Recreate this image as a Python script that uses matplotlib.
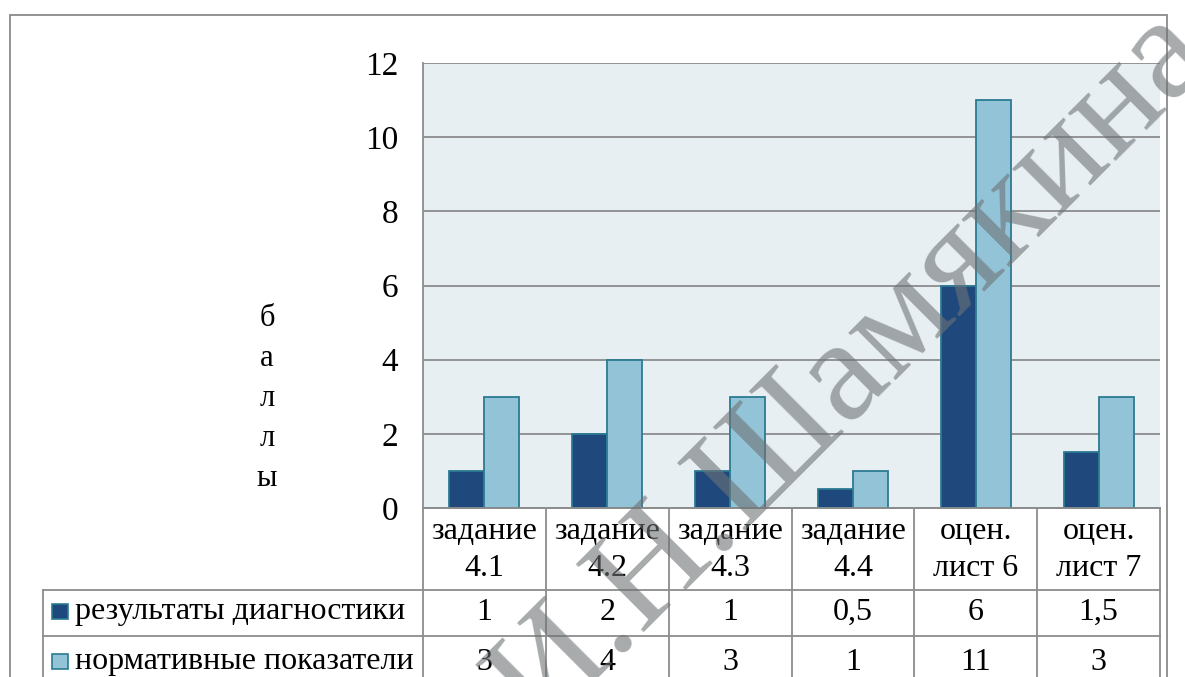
import numpy as np
import matplotlib
matplotlib.use("Agg")
import matplotlib.pyplot as plt
from matplotlib.patches import Rectangle
from matplotlib.transforms import blended_transform_factory

plt.rcParams['font.family'] = ['Liberation Serif', 'DejaVu Serif']

# data
categories = ["задание\n4.1", "задание\n4.2", "задание\n4.3", "задание\n4.4",
              "оцен.\nлист 6", "оцен.\nлист 7"]
series_names = ["результаты диагностики", "нормативные показатели"]
results = [1, 2, 1, 0.5, 6, 1.5]
norms = [3, 4, 3, 1, 11, 3]
yticks = [0, 2, 4, 6, 8, 10, 12]

c_dark = '#1F497D'
c_light = '#93C3D6'
c_edge = '#2B7A92'
c_grid = '#8C8C8C'

W, H = 1185, 677
fig = plt.figure(figsize=(W / 100, H / 100), dpi=100)

def fx(px):
    return px / W

def fy(py):
    return 1 - py / H

# chart area
ax_l, ax_r, ax_t, ax_b = 423, 1160, 63, 508
ax = fig.add_axes([fx(ax_l), fy(ax_b), fx(ax_r - ax_l), (ax_b - ax_t) / H])
ax.set_facecolor('#E8EFF3')

x = np.arange(len(categories))
bw = 0.285
ax.bar(x - bw / 2, results, bw, color=c_dark, edgecolor=c_edge, linewidth=1.3, zorder=3)
ax.bar(x + bw / 2, norms, bw, color=c_light, edgecolor=c_edge, linewidth=1.3, zorder=3)

ax.set_xlim(-0.5, len(categories) - 0.5)
ax.set_ylim(0, 12)
ax.set_yticks(yticks)
ax.set_yticklabels([str(v) for v in yticks], fontsize=24)
ax.tick_params(axis='y', length=0, pad=18)
ax.set_xticks([])
ax.yaxis.grid(True, color=c_grid, linewidth=1.3, zorder=1)
ax.set_axisbelow(True)
for s in ['top', 'right']:
    ax.spines[s].set_visible(False)
for s in ['left', 'bottom']:
    ax.spines[s].set_color(c_grid)
    ax.spines[s].set_linewidth(1.3)

# vertical axis title, one letter per line
fig.text(fx(267), fy(398), "б\nа\nл\nл\nы", ha='center', va='center',
         fontsize=22, linespacing=1.5)

# data table under the chart
tr = blended_transform_factory(ax.transData, fig.transFigure)
row_lines = [ax_b, 590, 636, 690]
tbl_left = 43

def hline(x0, x1, py):
    fig.add_artist(plt.Line2D([fx(x0), fx(x1)], [fy(py), fy(py)], color=c_grid, lw=1.3))

def vline(px, y0, y1):
    fig.add_artist(plt.Line2D([fx(px), fx(px)], [fy(y0), fy(y1)], color=c_grid, lw=1.3))

hline(ax_l, ax_r, ax_b)
for py in row_lines[1:3]:
    hline(tbl_left, ax_r, py)
vline(tbl_left, row_lines[1], H + 5)
for i in range(len(categories) + 1):
    xb = -0.5 + i
    fig.add_artist(plt.Line2D([xb, xb], [fy(ax_b), fy(H + 5)], color=c_grid, lw=1.3,
                              transform=tr))

for i, cat in enumerate(categories):
    fig.text(i, fy(550), cat, transform=tr,
             ha='center', va='center', fontsize=23, linespacing=1.32)

for r, (vals, col) in enumerate([(results, c_dark), (norms, c_light)]):
    yc = (row_lines[r + 1] + row_lines[r + 2]) / 2 - 1
    for i, v in enumerate(vals):
        fig.text(i, fy(yc), f"{v:g}".replace('.', ','), transform=tr,
                 ha='center', va='center', fontsize=23)
    fig.add_artist(Rectangle((fx(52), fy(yc + 7)), fx(16), 15 / H, facecolor=col,
                             edgecolor=c_edge, lw=1.2))
    fig.text(fx(75), fy(yc), series_names[r], ha='left', va='center', fontsize=23)

# outer frame of the chart
fig.add_artist(Rectangle((fx(10), fy(H + 5)), fx(1167 - 10), (H + 5 - 15) / H,
                         fill=False, edgecolor='#8A8A8A', lw=1.3))

# watermark along the diagonal, anchored at the start of its baseline
fig.text(fx(539), fy(733), "И.Н.Шамякина", rotation=45, rotation_mode='anchor',
         ha='left', va='baseline', fontsize=106, color='#6E7275', alpha=0.6,
         family='Liberation Serif', zorder=10)

fig.savefig("out.png", dpi=100)
